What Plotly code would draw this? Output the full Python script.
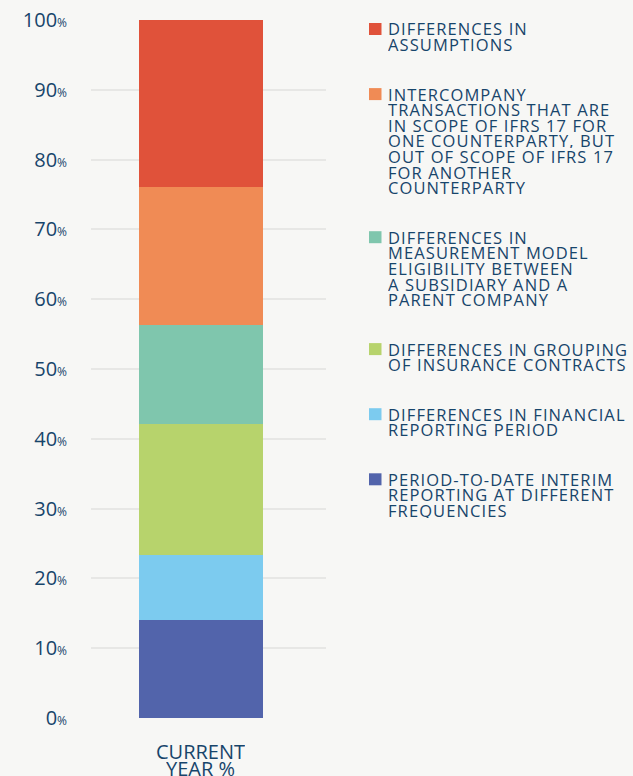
import plotly.graph_objects as go

# Category on the x axis (one entry per label line)
categories = ["CURRENT<br>YEAR %"]

# Stack segments, bottom to top
series_names = [
    "PERIOD-TO-DATE INTERIM<br>REPORTING AT DIFFERENT<br>FREQUENCIES",
    "DIFFERENCES IN FINANCIAL<br>REPORTING PERIOD",
    "DIFFERENCES IN GROUPING<br>OF INSURANCE CONTRACTS",
    "DIFFERENCES IN<br>MEASUREMENT MODEL<br>ELIGIBILITY BETWEEN<br>A SUBSIDIARY AND A<br>PARENT COMPANY",
    "INTERCOMPANY<br>TRANSACTIONS THAT ARE<br>IN SCOPE OF IFRS 17 FOR<br>ONE COUNTERPARTY, BUT<br>OUT OF SCOPE OF IFRS 17<br>FOR ANOTHER<br>COUNTERPARTY",
    "DIFFERENCES IN<br>ASSUMPTIONS",
]
values = [14.0, 9.3, 18.8, 14.2, 19.8, 23.9]
colors = ["#5264ab", "#7ccbef", "#b7d36c", "#7fc6ad", "#f08b55", "#e0523a"]

y_ticks = list(range(0, 101, 10))

TEXT = "#17456b"
BG = "#f7f7f5"
FONT = "Open Sans"

W, H = 633, 776
ML, MR, MT, MB = 91, 307, 20, 58
plot_w = W - ML - MR
plot_h = H - MT - MB

fig = go.Figure()
for name, val, col in zip(series_names, values, colors):
    fig.add_trace(go.Bar(
        x=[0], y=[val], name=name, marker=dict(color=col, line=dict(width=0)),
        width=0.528, showlegend=False, hoverinfo="skip",
    ))


def px_to_paper_x(px):
    return (px - ML) / plot_w


def px_to_paper_y(py):
    return (H - MB - py) / plot_h


def spaced(s, ls):
    return f"<span style='letter-spacing:{ls}px'>{s}</span>"


annotations = []
shapes = []

# Custom legend: top segment listed first, tightly set lines
line_step = 15.6
item_gap = 49.5
y_line = 29.0
for name, col in zip(reversed(series_names), reversed(colors)):
    lines = name.split("<br>")
    shapes.append(dict(
        type="rect", xref="paper", yref="paper",
        x0=px_to_paper_x(369), x1=px_to_paper_x(381.5),
        y0=px_to_paper_y(y_line - 6), y1=px_to_paper_y(y_line + 6),
        fillcolor=col, line=dict(width=0),
    ))
    for i, ln in enumerate(lines):
        annotations.append(dict(
            text=spaced(ln, 1.1), xref="paper", yref="paper",
            x=px_to_paper_x(386), y=px_to_paper_y(y_line + i * line_step),
            xanchor="left", yanchor="middle", showarrow=False,
            height=15, font=dict(family=FONT, size=16.5, color=TEXT, weight=500),
        ))
    y_line += (len(lines) - 1) * line_step + item_gap

# Category label under the bar, tightly set lines
for ci, cat in enumerate(categories):
    for i, ln in enumerate(cat.split("<br>")):
        annotations.append(dict(
            text=ln, xref="x", yref="paper",
            x=ci, y=px_to_paper_y(751 + i * 17.7),
            xanchor="center", yanchor="middle", showarrow=False,
            height=17, font=dict(family=FONT, size=20, color=TEXT, weight=500),
        ))

tick_text = [f"{v}<span style='font-size:12px'>%</span>" for v in y_ticks]

fig.update_layout(
    template="none",
    width=W, height=H,
    margin=dict(l=ML, r=MR, t=MT, b=MB, pad=0),
    paper_bgcolor=BG, plot_bgcolor=BG,
    barmode="stack", bargap=0,
    font=dict(family=FONT, color=TEXT),
    annotations=annotations, shapes=shapes,
    xaxis=dict(
        range=[-0.468, 0.532], tickvals=[0], showticklabels=False,
        showgrid=False, zeroline=False, showline=False, ticks="",
        automargin=False, fixedrange=True,
    ),
    yaxis=dict(
        range=[0, 100], tickvals=y_ticks, ticktext=tick_text,
        showgrid=True, gridcolor="#e7e7e5", gridwidth=2,
        zeroline=False, showline=False,
        ticks="outside", ticklen=19, tickcolor="rgba(0,0,0,0)",
        tickfont=dict(family=FONT, size=20, color=TEXT, weight=500),
        automargin=False, fixedrange=True,
    ),
)

fig.write_html("out.html", config={"displayModeBar": False})
